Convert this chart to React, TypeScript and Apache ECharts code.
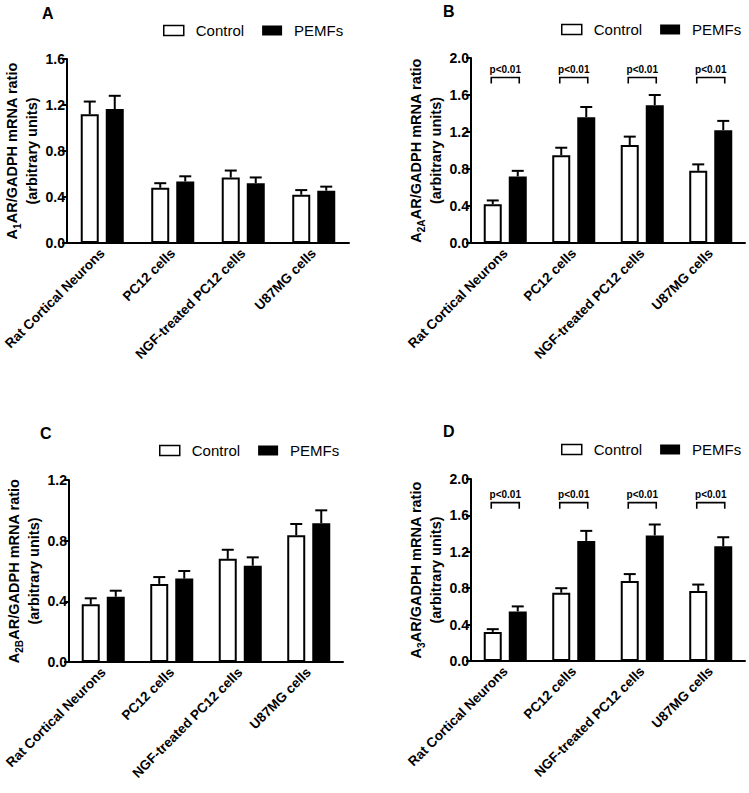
import React, { useEffect, useRef } from "react";
import * as echarts from "echarts";

const FONT = '"Liberation Sans", Arial, Helvetica, sans-serif';

const categories = ["Rat Cortical Neurons", "PC12 cells", "NGF-treated PC12 cells", "U87MG cells"];

// Panel A: A1AR
const controlA = [1.12, 0.48, 0.57, 0.42];
const controlSemA = [0.11, 0.04, 0.06, 0.04];
const pemfA = [1.165, 0.535, 0.52, 0.455];
const pemfSemA = [0.115, 0.045, 0.05, 0.035];

// Panel B: A2AAR
const controlB = [0.42, 0.95, 1.06, 0.78];
const controlSemB = [0.04, 0.08, 0.09, 0.07];
const pemfB = [0.72, 1.36, 1.49, 1.22];
const pemfSemB = [0.06, 0.11, 0.11, 0.10];

// Panel C: A2BAR
const controlC = [0.38, 0.515, 0.68, 0.835];
const controlSemC = [0.04, 0.045, 0.06, 0.075];
const pemfC = [0.43, 0.55, 0.635, 0.915];
const pemfSemC = [0.04, 0.05, 0.055, 0.085];

// Panel D: A3AR
const controlD = [0.32, 0.75, 0.88, 0.77];
const controlSemD = [0.03, 0.05, 0.075, 0.07];
const pemfD = [0.545, 1.32, 1.38, 1.26];
const pemfSemD = [0.055, 0.11, 0.12, 0.10];

const yMax = [1.6, 2.0, 1.2, 2.0];
const yInterval = 0.4;
const panelLetters = ["A", "B", "C", "D"];
const subscripts = ["1", "2A", "2B", "3"];
const sigLabel = "p<0.01";
const sigB = [1.79, 1.79, 1.79, 1.79];
const sigD = [1.74, 1.74, 1.74, 1.74];

const grids = [
  { left: 67, top: 59, width: 282, height: 184 },
  { left: 471, top: 58, width: 274, height: 185 },
  { left: 69, top: 480, width: 274, height: 182 },
  { left: 471, top: 479, width: 274, height: 182 },
];
const legendPos = [
  { left: 163, top: 23 },
  { left: 561, top: 22 },
  { left: 159, top: 443 },
  { left: 561, top: 442 },
];
const titlePos = [
  { left: 42, top: 5 },
  { left: 443, top: 3 },
  { left: 40, top: 425 },
  { left: 443, top: 423 },
];

const BAR_W = 18;
const GAP_PX = 7;
const OFF = (BAR_W + GAP_PX) / 2;

function errSeries(k: number, vals: number[], sems: number[], offset: number) {
  return {
    type: "custom",
    xAxisIndex: k,
    yAxisIndex: k,
    silent: true,
    z: 5,
    data: vals.map((v, i) => [i, v, sems[i]]),
    encode: { x: 0, y: 1 },
    renderItem: (params: any, api: any) => {
      const i = api.value(0);
      const v = api.value(1);
      const e = api.value(2);
      const p0 = api.coord([i, v]);
      const p1 = api.coord([i, v + e]);
      const x = p0[0] + offset;
      return {
        type: "group",
        children: [
          { type: "line", shape: { x1: x, y1: p0[1], x2: x, y2: p1[1] }, style: { stroke: "#000", lineWidth: 2 } },
          { type: "line", shape: { x1: x - 6, y1: p1[1], x2: x + 6, y2: p1[1] }, style: { stroke: "#000", lineWidth: 2 } },
        ],
      };
    },
  };
}

function sigSeries(k: number, levels: number[]) {
  return {
    type: "custom",
    xAxisIndex: k,
    yAxisIndex: k,
    silent: true,
    z: 6,
    data: levels.map((v, i) => [i, v]),
    encode: { x: 0, y: 1 },
    renderItem: (params: any, api: any) => {
      const p = api.coord([api.value(0), api.value(1)]);
      const l = p[0] - 14;
      const r = p[0] + 14;
      return {
        type: "group",
        children: [
          {
            type: "polyline",
            shape: { points: [[l, p[1] + 6], [l, p[1]], [r, p[1]], [r, p[1] + 6]] },
            style: { stroke: "#000", lineWidth: 1.6, fill: "none" },
          },
          {
            type: "text",
            x: p[0],
            y: p[1] - 3,
            style: {
              text: sigLabel,
              fill: "#000",
              fontSize: 10,
              fontWeight: "bold",
              fontFamily: FONT,
              align: "center",
              verticalAlign: "bottom",
            },
          },
        ],
      };
    },
  };
}

export default function App() {
  const ref = useRef<HTMLDivElement>(null);
  useEffect(() => {
    if (!ref.current) return;
    const chart = echarts.init(ref.current, null, { renderer: "svg" });
    const controls = [controlA, controlB, controlC, controlD];
    const controlSems = [controlSemA, controlSemB, controlSemC, controlSemD];
    const pemfs = [pemfA, pemfB, pemfC, pemfD];
    const pemfSems = [pemfSemA, pemfSemB, pemfSemC, pemfSemD];

    const series: any[] = [];
    for (let k = 0; k < 4; k++) {
      series.push({
        name: "Control",
        type: "bar",
        xAxisIndex: k,
        yAxisIndex: k,
        data: controls[k],
        barWidth: BAR_W,
        barGap: `${Math.round((GAP_PX / BAR_W) * 100)}%`,
        itemStyle: { color: "#fff", borderColor: "#000", borderWidth: 2 },
        silent: true,
      });
      series.push({
        name: "PEMFs",
        type: "bar",
        xAxisIndex: k,
        yAxisIndex: k,
        data: pemfs[k],
        barWidth: BAR_W,
        barGap: `${Math.round((GAP_PX / BAR_W) * 100)}%`,
        itemStyle: { color: "#000", borderColor: "#000", borderWidth: 2 },
        silent: true,
      });
      series.push(errSeries(k, controls[k], controlSems[k], -OFF));
      series.push(errSeries(k, pemfs[k], pemfSems[k], OFF));
    }
    series.push(sigSeries(1, sigB));
    series.push(sigSeries(3, sigD));

    const option: any = {
      animation: false,
      backgroundColor: "#fff",
      title: panelLetters.map((t, k) => ({
        text: t,
        left: titlePos[k].left,
        top: titlePos[k].top,
        padding: 0,
        textStyle: { fontSize: 16, fontWeight: "bold", fontFamily: FONT, color: "#000" },
      })),
      legend: legendPos.map((p) => ({
        left: p.left,
        top: p.top,
        padding: 0,
        itemGap: 18,
        itemWidth: 20,
        itemHeight: 10,
        selectedMode: false,
        textStyle: { fontSize: 15, fontFamily: FONT, color: "#000", padding: [0, 0, 0, 7] },
        data: [
          { name: "Control", icon: "rect", itemStyle: { color: "#fff", borderColor: "#000", borderWidth: 1.5 } },
          { name: "PEMFs", icon: "rect", itemStyle: { color: "#000", borderColor: "#000", borderWidth: 0 } },
        ],
      })),
      grid: grids.map((g) => ({ ...g, containLabel: false })),
      xAxis: grids.map((_, k) => ({
        type: "category",
        gridIndex: k,
        data: categories,
        axisLine: { lineStyle: { color: "#000", width: 2 } },
        axisTick: { alignWithLabel: true, length: 5, lineStyle: { color: "#000", width: 2 } },
        axisLabel: {
          interval: 0,
          rotate: 45,
          margin: 8,
          fontSize: 13.5,
          fontWeight: "bold",
          fontFamily: FONT,
          color: "#000",
        },
      })),
      yAxis: grids.map((_, k) => ({
        type: "value",
        gridIndex: k,
        min: 0,
        max: yMax[k],
        interval: yInterval,
        splitLine: { show: false },
        axisLine: { show: true, lineStyle: { color: "#000", width: 2 } },
        axisTick: { show: true, length: 5, lineStyle: { color: "#000", width: 2 } },
        axisLabel: {
          margin: 2,
          fontSize: 14,
          fontWeight: "bold",
          fontFamily: FONT,
          color: "#000",
          formatter: (v: number) => v.toFixed(1),
        },
        name: `{b|A}{s|${subscripts[k]}}{b|AR/GADPH mRNA ratio}\n{b|(arbitrary units)}`,
        nameLocation: "middle",
        nameRotate: 90,
        nameGap: 25,
        nameTextStyle: {
          rich: {
            b: { fontSize: 14.5, fontWeight: "bold", fontFamily: FONT, color: "#000", lineHeight: 20 },
            s: {
              fontSize: 10,
              fontWeight: "bold",
              fontFamily: FONT,
              color: "#000",
              lineHeight: 10,
              verticalAlign: "bottom",
            },
          },
        },
      })),
      series,
    };
    chart.setOption(option);
    return () => chart.dispose();
  }, []);
  return (
    <div
      ref={ref}
      style={{ position: "fixed", left: 0, top: 0, width: 749, height: 793, background: "#fff" }}
    />
  );
}
